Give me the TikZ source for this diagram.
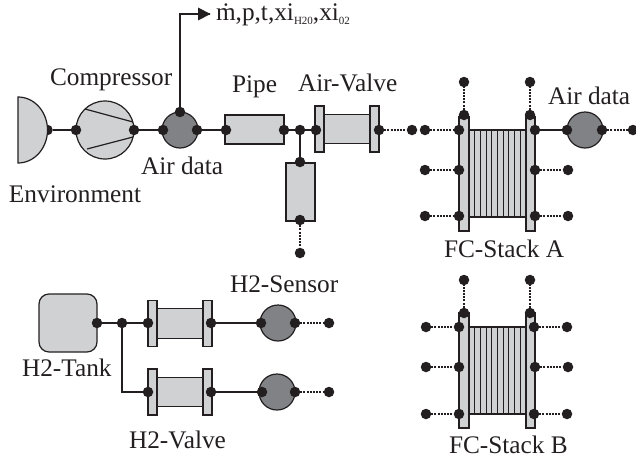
\documentclass[tikz,border=0pt]{standalone}
\usepackage{fontspec}
\setmainfont{Liberation Serif}
\definecolor{lite}{HTML}{CFD1D2}
\definecolor{dark}{HTML}{808285}
\definecolor{ink}{HTML}{231F20}
\tikzset{
  part/.style={draw=ink,fill=lite,line width=1.2pt,inner sep=0pt,outer sep=0pt},
  boxshape/.style={part,rectangle},
  sensor/.style={circle,draw=ink,fill=dark,line width=1.2pt,inner sep=0pt,outer sep=0pt,minimum size=36pt},
  comp/.style={circle,part,minimum size=58pt},
  port/.style={circle,fill=ink,inner sep=0pt,outer sep=0pt,minimum size=10.5pt},
  solidlink/.style={draw=ink,line width=1.2pt},
  dotlink/.style={draw=ink,line width=1.1pt,dash pattern=on 2pt off 1.2pt},
  lbl/.style={anchor=base west,inner sep=0pt,outer sep=0pt,text=ink,font=\fontsize{25.3}{27}\selectfont},
  sublbl/.style={anchor=base west,inner sep=0pt,outer sep=0pt,text=ink,font=\fontsize{11}{12}\selectfont},
}
% name, centre x, centre y
\newcommand{\valveshape}[3]{%
  \node[boxshape,minimum width=46pt,minimum height=29.5pt] (#1b) at (#2,#3) {};
  \node[boxshape,minimum width=9pt,minimum height=46pt] (#1l) at (#2-27.5,#3) {};
  \node[boxshape,minimum width=9pt,minimum height=46pt] (#1r) at (#2+27.5,#3) {};
}
% name, top of plates, top of body, bottom of body, bottom of plates
\newcommand{\stackshape}[5]{%
  \path[fill=lite] (469,#3) rectangle (526,#4);
  \foreach \i in {1,...,9} {\draw[draw=ink,line width=0.9pt] (469+5.7*\i,#3) -- (469+5.7*\i,#4);}
  \draw[draw=ink,line width=1.2pt] (469,#3) -- (526,#3) (469,#4) -- (526,#4);
  \path[boxshape,draw] (459,#2) rectangle (469,#5);
  \path[boxshape,draw] (526,#2) rectangle (535,#5);
}
\begin{document}
\begin{tikzpicture}[x=1pt,y=-1pt]
\useasboundingbox (0,0) rectangle (636,460);
% Environment
\node[port] (envout) at (47.5,130) {};
\path[part,draw] (18,97) arc[start angle=-90,end angle=90,x radius=29.5,y radius=33] -- cycle;
% Compressor
\node[comp] (cmp) at (105,130) {};
\draw[draw=ink,line width=1.2pt] (85,109) -- (133,122) (87,149) -- (133,137);
\node[port] (cmpin) at (76,130) {};
\node[port] (cmpout) at (134,130) {};
% Air data sensor
\node[sensor] (s1) at (180,130) {};
\node[port] (s1in) at (163,130) {};
\node[port] (s1out) at (197,130) {};
\node[port] (s1top) at (180,112) {};
\coordinate (s1arrow) at (210,14);
% Pipe
\node[boxshape,minimum width=59pt,minimum height=29pt] (pipe) at (254.5,129.5) {};
\node[port] (pipein) at (226,130) {};
\node[port] (pipeout) at (284,130) {};
\node[port] (junc) at (300,130) {};
% Branch
\node[boxshape,minimum width=29pt,minimum height=58pt] (branch) at (300.5,192) {};
\node[port] (brtop) at (300,162) {};
\node[port] (brbot) at (300,220) {};
\node[port] (brend) at (300,253) {};
% Air valve
\valveshape{av}{347}{129}
\node[port] (avin) at (316,130) {};
\node[port] (avout) at (379,130) {};
\node[port] (avend) at (412,130) {};
% Stack A
\stackshape{A}{117}{130}{217}{231}
\node[port] (At1) at (464,115) {};
\node[port] (At2) at (530,115) {};
\node[port] (Ae1) at (464,82) {};
\node[port] (Ae2) at (530,82) {};
\node[port] (Al1) at (459,130) {};
\node[port] (Al2) at (459,170) {};
\node[port] (Al3) at (459,216) {};
\node[port] (Ax1) at (425,130) {};
\node[port] (Ax2) at (425,170) {};
\node[port] (Ax3) at (425,216) {};
\node[port] (Ar1) at (535,130) {};
\node[port] (Ar2) at (535,170) {};
\node[port] (Ar3) at (535,216) {};
\node[port] (Ay2) at (568,170) {};
\node[port] (Ay3) at (568,216) {};
% Air data right
\node[sensor] (s2) at (585,130) {};
\node[port] (s2in) at (567,130) {};
\node[port] (s2out) at (602,130) {};
\node[port] (s2end) at (633,130) {};
% Stack B
\stackshape{B}{313}{327}{414}{428}
\node[port] (Bt1) at (464,313) {};
\node[port] (Bt2) at (530,313) {};
\node[port] (Be1) at (464,280) {};
\node[port] (Be2) at (530,280) {};
\node[port] (Bl1) at (459,327) {};
\node[port] (Bl2) at (459,367) {};
\node[port] (Bl3) at (459,414) {};
\node[port] (Bx1) at (426,327) {};
\node[port] (Bx2) at (426,367) {};
\node[port] (Bx3) at (426,414) {};
\node[port] (Br1) at (534,327) {};
\node[port] (Br2) at (535,367) {};
\node[port] (Br3) at (534,414) {};
\node[port] (By1) at (567,327) {};
\node[port] (By2) at (568,367) {};
\node[port] (By3) at (567,414) {};
% Hydrogen line
\node[boxshape,rounded corners=10pt,minimum width=58pt,minimum height=58pt] (tank) at (68,323) {};
\node[port] (tankout) at (97,323) {};
\node[port] (hjunc) at (122,323) {};
\valveshape{v1}{180}{323.5}
\valveshape{v2}{180}{392}
\node[port] (v1in) at (148,323) {};
\node[port] (v1out) at (211,323) {};
\node[port] (v2in) at (148,392) {};
\node[port] (v2out) at (211,392) {};
\node[sensor] (s3) at (278,323) {};
\node[port] (s3in) at (261,323) {};
\node[port] (s3out) at (295,323) {};
\node[port] (s3end) at (329,323) {};
\node[sensor] (s4) at (277,392) {};
\node[port] (s4in) at (262,392) {};
\node[port] (s4out) at (295,392) {};
\node[port] (s4end) at (329,392) {};
% Solid connectors
\draw[solidlink] (envout) -- (cmpin);
\draw[solidlink] (cmpout) -- (s1in);
\draw[solidlink] (s1out) -- (pipein);
\draw[solidlink] (pipeout) -- (junc);
\draw[solidlink] (junc) -- (avin);
\draw[solidlink] (junc) -- (brtop);
\draw[solidlink] (Ar1) -- (s2in);
\draw[solidlink] (tankout) -- (hjunc);
\draw[solidlink] (hjunc) -- (v1in);
\draw[solidlink] (hjunc) |- (v2in);
\draw[solidlink] (v1out) -- (s3in);
\draw[solidlink] (v2out) -- (s4in);
\draw[solidlink] (s1top) |- (s1arrow);
\fill[ink] (198,7.5) -- (210.5,14) -- (198,20.5) -- cycle;
% Dotted connectors
\draw[dotlink] (brbot) -- (brend);
\draw[dotlink] (avout) -- (avend);
\draw[dotlink] (s2out) -- (s2end);
\draw[dotlink] (s3out) -- (s3end);
\draw[dotlink] (s4out) -- (s4end);
\foreach \s in {A,B} {
  \draw[dotlink] (\s t1) -- (\s e1);
  \draw[dotlink] (\s t2) -- (\s e2);
  \foreach \k in {1,2,3} {\draw[dotlink] (\s x\k) -- (\s l\k);}
  \foreach \k in {2,3} {\draw[dotlink] (\s r\k) -- (\s y\k);}
}
\draw[dotlink] (Br1) -- (By1);
% Labels
\node[lbl] (tcomp) at (50,85) {Compressor};
\node[lbl] (tpipe) at (232,92) {Pipe};
\node[lbl] (tav) at (298,91) {Air-Valve};
\node[lbl] (tad1) at (141,174) {Air data};
\node[lbl] (tenv) at (9,202) {Environment};
\node[lbl] (tad2) at (548,104) {Air data};
\node[lbl] (tfa) at (444,257) {FC-Stack A};
\node[lbl] (tfb) at (449,453) {FC-Stack B};
\node[lbl] (th2s) at (230,292) {H2-Sensor};
\node[lbl] (th2t) at (22,376) {H2-Tank};
\node[lbl] (th2v) at (129,448) {H2-Valve};
\node[lbl] (tsig1) at (216,21) {\.m,p,t,xi};
\node[sublbl] (tsub1) at (tsig1.base east) [yshift=-4pt] {H20};
\node[lbl] (tsig2) at (tsub1.base east) [yshift=4pt] {,xi};
\node[sublbl] (tsub2) at (tsig2.base east) [yshift=-4pt] {02};
\end{tikzpicture}
\end{document}
